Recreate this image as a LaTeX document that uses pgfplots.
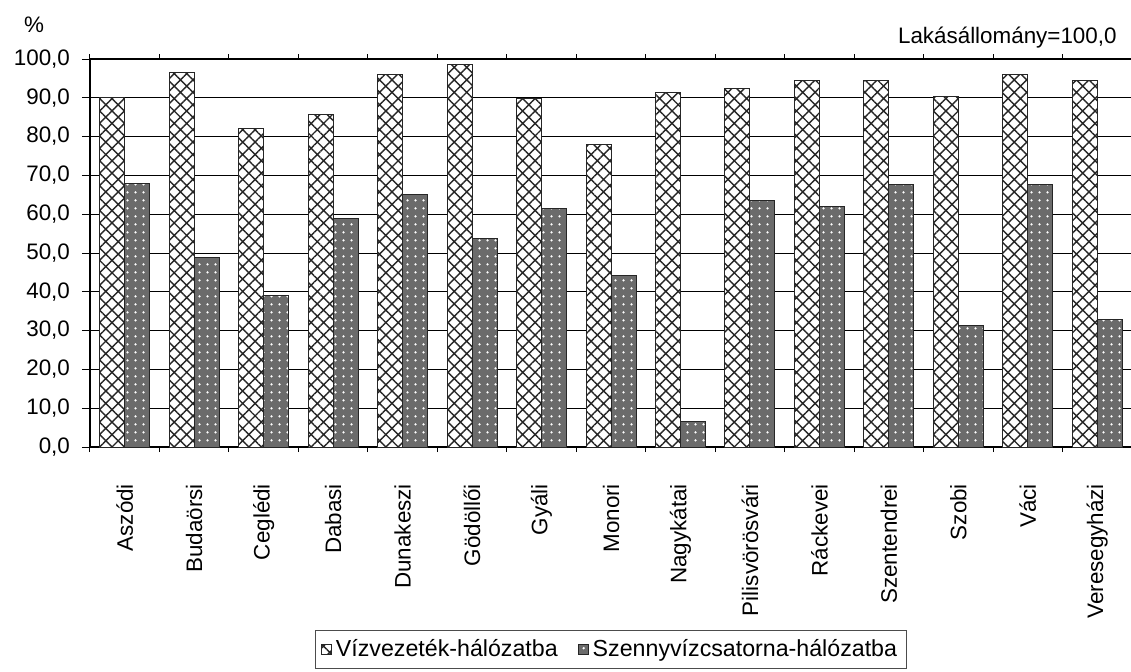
\documentclass[border=0pt]{standalone}
\usepackage{pgfplots}
\pgfplotsset{compat=1.18}
\usetikzlibrary{patterns,patterns.meta}
\usepackage{fontspec}
\setmainfont{Liberation Sans}
\newcommand{\lf}{\fontsize{11.2}{13}\selectfont}
\newcommand{\lgf}{\fontsize{11.6}{13}\selectfont}
\begin{document}
\begin{tikzpicture}[x=1pt,y=1pt,font=\lf]
\useasboundingbox (0,0) rectangle (565.5,335.5);
\begin{axis}[
  at={(45pt,112pt)}, anchor=south west,
  scale only axis, width=521pt, height=194pt,
  ybar=0pt, bar width=12.5pt,
  xmin=-0.5, xmax=14.5, ymin=0, ymax=100,
  xtick={0,...,14},
  xticklabels={Aszódi,Budaörsi,Ceglédi,Dabasi,Dunakeszi,Gödöllői,Gyáli,Monori,Nagykátai,Pilisvörösvári,Ráckevei,Szentendrei,Szobi,Váci,Veresegyházi},
  minor xtick={-0.5,0.5,...,14.5},
  major x tick style={draw=none},
  minor x tick style={black, line width=0.5pt},
  minor tick length=2.5pt,
  ytick={0,10,...,100},
  major tick length=4pt,
  tick align=outside,
  y tick style={black, line width=0.5pt},
  xticklabel style={rotate=90, anchor=east, font=\lf},
  xticklabel shift=11pt,
  yticklabel shift=2.5pt,
  yticklabel style={font=\lf, /pgf/number format/.cd, fixed, fixed zerofill, precision=1, use comma, assume math mode=true},
  ymajorgrids, grid style={black, line width=0.5pt},
  axis line style={black, line width=0.8pt},
  legend style={at={(0.5,-0.522)}, anchor=center, draw=black!70, line width=0.5pt, font=\lgf, legend columns=2, inner sep=2.5pt,
     /tikz/every even column/.append style={column sep=8pt}},
  legend image code/.code={\draw[#1] (0pt,-2.5pt) rectangle (5pt,2.5pt);},
]
\addplot[draw=black!85, line width=0.5pt, fill=white,
  postaction={pattern={Hatch[angle=45,distance=4.4pt,line width=0.7pt]}, pattern color=black!85}]
  coordinates {(0,90.0) (1,96.5) (2,82.1) (3,85.8) (4,96.1) (5,98.6) (6,89.8) (7,78.0) (8,91.3) (9,92.4) (10,94.4) (11,94.4) (12,90.3) (13,96.0) (14,94.4)};
\addplot[draw=black!85, line width=0.5pt, fill=black!58,
  postaction={pattern={Dots[distance=4pt,radius=0.7pt]}, pattern color=white}]
  coordinates {(0,67.8) (1,48.8) (2,39.0) (3,59.0) (4,65.2) (5,53.8) (6,61.5) (7,44.1) (8,6.5) (9,63.6) (10,62.0) (11,67.6) (12,31.3) (13,67.6) (14,32.8)};
\legend{Vízvezeték-hálózatba, Szennyvízcsatorna-hálózatba}
\end{axis}
\node[anchor=base] at (17pt,319pt) {\%};
\node[anchor=base east, inner sep=0pt] at (558.5pt,313.75pt) {Lakásállomány=100,0};
\end{tikzpicture}
\end{document}
